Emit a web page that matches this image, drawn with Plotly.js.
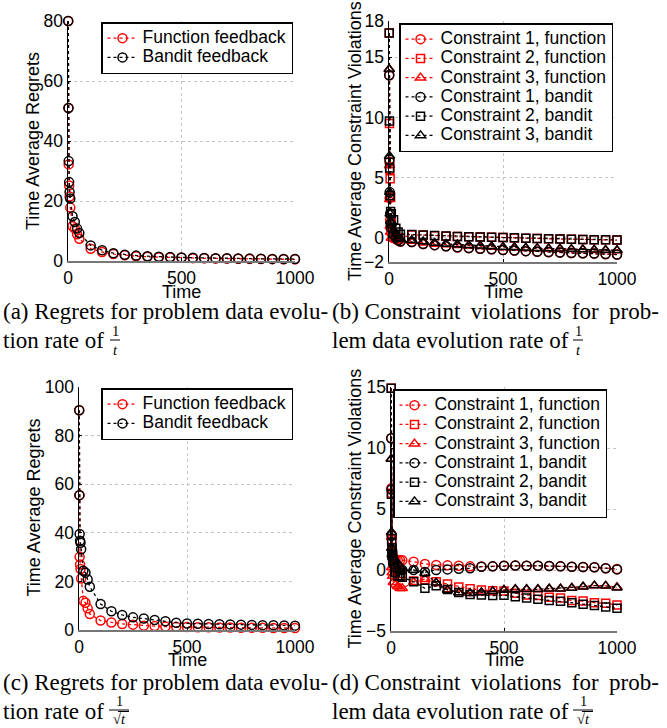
<!DOCTYPE html>
<html><head><meta charset="utf-8">
<script src="https://cdn.plot.ly/plotly-3.0.1.min.js"></script>
<style>html,body{margin:0;padding:0;background:#fff}#chart{width:667px;height:728px}</style>
</head><body><div id="chart"></div>
<script>
const W = 667, H = 728;

// time steps (shared by all panels)
const time = [1, 2, 3, 5, 7, 10, 20, 30, 40, 50, 100, 150, 200, 250, 300, 350, 400, 450, 500, 550, 600, 650, 700, 750, 800, 850, 900, 950, 1000];

// (a) regrets, rate 1/t
const regretFuncA   = [80, 51, 32.2, 25.2, 21.5, 17.8, 11.6, 10.8, 8.9, 7.4, 4.1, 3.0, 2.3, 1.9, 1.6, 1.4, 1.25, 1.15, 1.05, 0.95, 0.9, 0.85, 0.8, 0.75, 0.7, 0.65, 0.62, 0.6, 0.55];
const regretBanditA = [80, 51, 33.3, 26.3, 23, 20.8, 14.9, 13, 10.8, 9.3, 5.2, 3.6, 2.6, 2.1, 1.8, 1.6, 1.4, 1.3, 1.2, 1.1, 1.0, 0.95, 0.9, 0.85, 0.8, 0.75, 0.7, 0.68, 0.65];

// (b) constraint violations, rate 1/t
const c1FuncB   = [13.5, 6.3, 3.3, 1.5, 0.8, 0.4, 0.0, -0.1, -0.2, -0.3, -0.35, -0.5, -0.6, -0.7, -0.8, -0.85, -0.9, -0.95, -1.0, -1.05, -1.1, -1.15, -1.2, -1.22, -1.25, -1.28, -1.3, -1.35, -1.38];
const c2FuncB   = [17, 9.5, 5.7, 4.9, 3.4, 1.2, 0.3, 0.0, -0.1, 0.0, 0.25, 0.22, 0.18, 0.14, 0.11, 0.09, 0.07, 0.05, 0.03, 0.0, -0.02, -0.05, -0.07, -0.09, -0.11, -0.13, -0.15, -0.16, -0.18];
const c3FuncB   = [14, 6.0, 3.2, 1.0, 0.5, 0.0, -0.1, -0.15, -0.2, -0.2, -0.25, -0.4, -0.5, -0.55, -0.6, -0.65, -0.7, -0.75, -0.8, -0.82, -0.85, -0.88, -0.9, -0.92, -0.95, -0.97, -1.0, -1.02, -1.05];
const c1BanditB = [13.5, 6.5, 3.8, 2.0, 1.2, 0.8, 0.3, 0.0, -0.2, -0.3, -0.35, -0.5, -0.6, -0.7, -0.78, -0.84, -0.9, -0.95, -1.0, -1.05, -1.1, -1.14, -1.18, -1.22, -1.25, -1.28, -1.3, -1.34, -1.38];
const c2BanditB = [17, 9.7, 5.8, 3.5, 2.2, 2.0, 1.5, 0.8, 0.5, 0.3, 0.28, 0.24, 0.2, 0.16, 0.12, 0.1, 0.08, 0.06, 0.03, 0.01, -0.02, -0.04, -0.07, -0.09, -0.11, -0.13, -0.15, -0.16, -0.17];
const c3BanditB = [14, 6.8, 3.8, 2.0, 1.4, 1.2, 0.6, 0.3, 0.0, -0.1, -0.2, -0.3, -0.42, -0.5, -0.55, -0.6, -0.65, -0.7, -0.75, -0.78, -0.82, -0.85, -0.88, -0.9, -0.93, -0.96, -0.98, -1.0, -1.03];

// (c) regrets, rate 1/sqrt(t)
const regretFuncC   = [90.4, 55.5, 30.1, 27, 25.1, 21.2, 12, 11.2, 8.9, 6.6, 3.9, 3.1, 2.5, 2.2, 1.8, 1.6, 1.4, 1.3, 1.2, 1.15, 1.1, 1.05, 1.0, 0.95, 0.9, 0.9, 0.85, 0.85, 0.8];
const regretBanditC = [90.4, 55.5, 39.5, 36.7, 35.9, 33.2, 24.4, 23.6, 20.8, 17.8, 10.7, 7.7, 6.2, 5.2, 4.7, 4.1, 3.6, 3.0, 2.7, 2.6, 2.5, 2.4, 2.3, 2.2, 2.1, 2.0, 1.95, 1.9, 1.8];

// (d) constraint violations, rate 1/sqrt(t)
const c1FuncD   = [10.8, 6.7, 2.9, 1.5, 1.0, 0.8, 0.9, 0.8, 0.8, 0.8, 0.68, 0.5, 0.42, 0.38, 0.35, 0.3, 0.28, 0.3, 0.35, 0.36, 0.35, 0.35, 0.33, 0.3, 0.27, 0.25, 0.22, 0.15, 0.08];
const c2FuncD   = [14.9, 6.3, 2.5, 1.5, 1.0, 0.5, 0.2, 0.0, -0.3, -0.5, -0.9, -0.8, -0.96, -1.15, -1.4, -1.53, -1.64, -1.7, -1.72, -1.9, -2.05, -2.1, -2.24, -2.3, -2.51, -2.55, -2.68, -2.72, -2.87];
const c3FuncD   = [9.1, 2.7, 0.2, -0.2, -0.5, -1.0, -1.2, -1.35, -1.5, -1.5, -1.0, -0.75, -1.05, -1.6, -1.85, -1.9, -1.85, -1.75, -1.64, -1.58, -1.58, -1.58, -1.53, -1.53, -1.48, -1.37, -1.28, -1.3, -1.42];
const c1BanditD = [10.8, 6.6, 2.8, 1.4, 1.0, 0.5, 0.2, 0.3, 0.0, 0.0, 0.0, -0.17, 0.0, 0.05, 0.1, 0.14, 0.27, 0.3, 0.35, 0.36, 0.35, 0.35, 0.33, 0.3, 0.27, 0.25, 0.22, 0.15, 0.05];
const c2BanditD = [14.9, 6.2, 2.3, 1.8, 1.2, 0.8, -0.2, -0.5, -0.5, -0.6, -0.96, -1.5, -1.3, -1.6, -1.85, -2.0, -2.05, -2.1, -2.07, -2.2, -2.3, -2.4, -2.5, -2.57, -2.68, -2.8, -2.92, -3.03, -3.14];
const c3BanditD = [9.1, 3.1, 1.8, 1.3, 1.2, 1.0, 0.8, 0.5, 0.3, 0.1, 0.0, -0.27, -1.04, -1.64, -1.85, -1.9, -1.85, -1.75, -1.64, -1.58, -1.58, -1.58, -1.53, -1.53, -1.48, -1.37, -1.28, -1.3, -1.45];

// labels
const regretNames = ['Function feedback', 'Bandit feedback'];
const constraintNames = ['Constraint 1, function', 'Constraint 2, function', 'Constraint 3, function',
                         'Constraint 1, bandit', 'Constraint 2, bandit', 'Constraint 3, bandit'];
const xTicks = [0, 500, 1000];
const yTicksA = [0, 20, 40, 60, 80];
const yTicksB = [-2, 0, 5, 10, 15, 18];
const yTicksC = [0, 20, 40, 60, 80, 100];
const yTicksD = [-5, 0, 5, 10, 15];
const xTitle = 'Time';
const yTitleRegret = 'Time Average Regrets';
const yTitleViol = 'Time Average Constraint Violations';

const RED = '#ff0000', BLK = '#000000';
const SANS = 'Liberation Sans, Arial, Helvetica, sans-serif';
const SERIF = 'Liberation Serif, Times New Roman, serif';

const lgName = n => '<span style="font-size:17.5px">' + n + '</span>';

function tr(y, name, color, symbol, size, xa, ya, lg) {
  return {
    type: 'scatter', mode: 'lines+markers', x: time, y: y, name: lgName(name),
    xaxis: xa, yaxis: ya, legend: lg, cliponaxis: false,
    line: {color: color, width: 1.3, dash: 'dot'},
    marker: {symbol: symbol, size: size, color: color, line: {color: color, width: 1.5}}
  };
}

const data = [
  tr(regretFuncA, regretNames[0], RED, 'circle-open', 9, 'x', 'y', 'legend'),
  tr(regretBanditA, regretNames[1], BLK, 'circle-open', 9, 'x', 'y', 'legend'),

  tr(c1FuncB, constraintNames[0], RED, 'circle-open', 9, 'x2', 'y2', 'legend2'),
  tr(c2FuncB, constraintNames[1], RED, 'square-open', 8, 'x2', 'y2', 'legend2'),
  tr(c3FuncB, constraintNames[2], RED, 'triangle-up-open', 9, 'x2', 'y2', 'legend2'),
  tr(c1BanditB, constraintNames[3], BLK, 'circle-open', 9, 'x2', 'y2', 'legend2'),
  tr(c2BanditB, constraintNames[4], BLK, 'square-open', 8, 'x2', 'y2', 'legend2'),
  tr(c3BanditB, constraintNames[5], BLK, 'triangle-up-open', 9, 'x2', 'y2', 'legend2'),

  tr(regretFuncC, regretNames[0], RED, 'circle-open', 9, 'x3', 'y3', 'legend3'),
  tr(regretBanditC, regretNames[1], BLK, 'circle-open', 9, 'x3', 'y3', 'legend3'),

  tr(c1FuncD, constraintNames[0], RED, 'circle-open', 9, 'x4', 'y4', 'legend4'),
  tr(c2FuncD, constraintNames[1], RED, 'square-open', 8, 'x4', 'y4', 'legend4'),
  tr(c3FuncD, constraintNames[2], RED, 'triangle-up-open', 9, 'x4', 'y4', 'legend4'),
  tr(c1BanditD, constraintNames[3], BLK, 'circle-open', 9, 'x4', 'y4', 'legend4'),
  tr(c2BanditD, constraintNames[4], BLK, 'square-open', 8, 'x4', 'y4', 'legend4'),
  tr(c3BanditD, constraintNames[5], BLK, 'triangle-up-open', 9, 'x4', 'y4', 'legend4')
];

const fx = v => v / W;
const fy = v => 1 - v / H;

function xAx(l, r, anchor) {
  return {
    domain: [fx(l), fx(r)], anchor: anchor, range: [0, 1000], tickmode: 'array', tickvals: xTicks,
    ticks: 'inside', ticklen: 3, tickcolor: '#000', showgrid: true, gridcolor: '#c4c4c4', griddash: 'dot',
    gridwidth: 1, showline: true, linecolor: '#777', linewidth: 2, zeroline: false,
    tickfont: {family: SANS, size: 17.5, color: '#000'}, fixedrange: true
  };
}
function yAx(top, bot, range, ticks, anchor) {
  return {
    domain: [fy(bot), fy(top)], anchor: anchor, range: range, tickmode: 'array', tickvals: ticks,
    ticks: 'inside', ticklen: 3, tickcolor: '#000', showgrid: true, gridcolor: '#c4c4c4', griddash: 'dot',
    gridwidth: 1, showline: true, linecolor: '#000', linewidth: 1.5, zeroline: false,
    tickfont: {family: SANS, size: 17.5, color: '#000'}, ticklabelstandoff: 0, fixedrange: true
  };
}
function lg(right, top) {
  return {
    x: fx(right), y: fy(top), xanchor: 'right', yanchor: 'top', bgcolor: '#fff',
    bordercolor: '#000', borderwidth: 1.5, font: {family: SANS, size: 12.5, color: '#000'},
    itemwidth: 30, tracegroupgap: 0
  };
}

function ann(text, x, y, opts) {
  return Object.assign({
    text: text, x: fx(x), y: fy(y), xref: 'paper', yref: 'paper', showarrow: false,
    xanchor: 'center', yanchor: 'middle', font: {family: SANS, size: 18, color: '#000'}
  }, opts || {});
}
const capFont = {family: SERIF, size: 23, color: '#000'};
const fracFont = {family: SERIF, size: 14.5, color: '#000'};
const TS = '\u2009';

const annotations = [
  // axis titles
  ann(yTitleRegret, 33, 141, {textangle: -90}),
  ann(yTitleViol, 355, 141, {textangle: -90}),
  ann(yTitleRegret, 33.5, 508, {textangle: -90}),
  ann(yTitleViol, 354.5, 509, {textangle: -90}),
  ann(xTitle, 181.5, 292),
  ann(xTitle, 503, 292),
  ann(xTitle, 187, 660),
  ann(xTitle, 504, 660),
  // captions top
  ann('(a) Regrets for problem data evolu-', 1, 311, {xanchor: 'left', font: capFont}),
  ann('tion rate of', 1, 340, {xanchor: 'left', font: capFont}),
  ann('1', 115, 331, {font: fracFont}),
  ann('<i>t</i>', 115, 350, {font: fracFont}),
  ann('(b) Constraint ' + TS + 'violations ' + TS + 'for ' + TS + 'prob-', 330, 311, {xanchor: 'left', font: capFont}),
  ann('lem data evolution rate of', 330, 340, {xanchor: 'left', font: capFont}),
  ann('1', 578, 331, {font: fracFont}),
  ann('<i>t</i>', 578, 350, {font: fracFont}),
  // captions bottom
  ann('(c) Regrets for problem data evolu-', 1, 682, {xanchor: 'left', font: capFont}),
  ann('tion rate of', 1, 711, {xanchor: 'left', font: capFont}),
  ann('1', 119, 701, {font: fracFont}),
  ann('\u221A<i>t</i>', 119, 719, {font: fracFont}),
  ann('(d) Constraint ' + TS + 'violations ' + TS + 'for ' + TS + 'prob-', 330, 682, {xanchor: 'left', font: capFont}),
  ann('lem data evolution rate of', 330, 711, {xanchor: 'left', font: capFont}),
  ann('1', 583, 701, {font: fracFont}),
  ann('\u221A<i>t</i>', 583, 719, {font: fracFont})
];

function hline(x0, x1, y) {
  return {type: 'line', xref: 'paper', yref: 'paper', x0: fx(x0), x1: fx(x1), y0: fy(y), y1: fy(y),
          line: {color: '#000', width: 1}};
}
const shapes = [
  hline(110, 120, 340), hline(573, 583, 340),
  hline(109, 129, 710), hline(573, 593, 710),
  hline(118, 129, 711.5), hline(582, 593, 711.5)
];

const layout = {
  width: W, height: H, margin: {l: 0, r: 0, t: 0, b: 0},
  paper_bgcolor: '#fff', plot_bgcolor: '#fff', showlegend: true,
  xaxis: xAx(68, 295, 'y'),   yaxis: yAx(21, 261, [0, 80], yTicksA, 'x'),
  xaxis2: xAx(389, 617, 'y2'), yaxis2: yAx(21, 262, [-2, 18], yTicksB, 'x2'),
  xaxis3: xAx(79, 295, 'y3'),  yaxis3: yAx(387, 630, [0, 100], yTicksC, 'x3'),
  xaxis4: xAx(391, 617, 'y4'), yaxis4: yAx(387, 631, [-5, 15], yTicksD, 'x4'),
  legend: lg(293, 22), legend2: lg(613, 23), legend3: lg(293, 388), legend4: lg(607, 389),
  annotations: annotations, shapes: shapes
};

Plotly.newPlot('chart', data, layout, {displayModeBar: false, staticPlot: true});
</script></body></html>
